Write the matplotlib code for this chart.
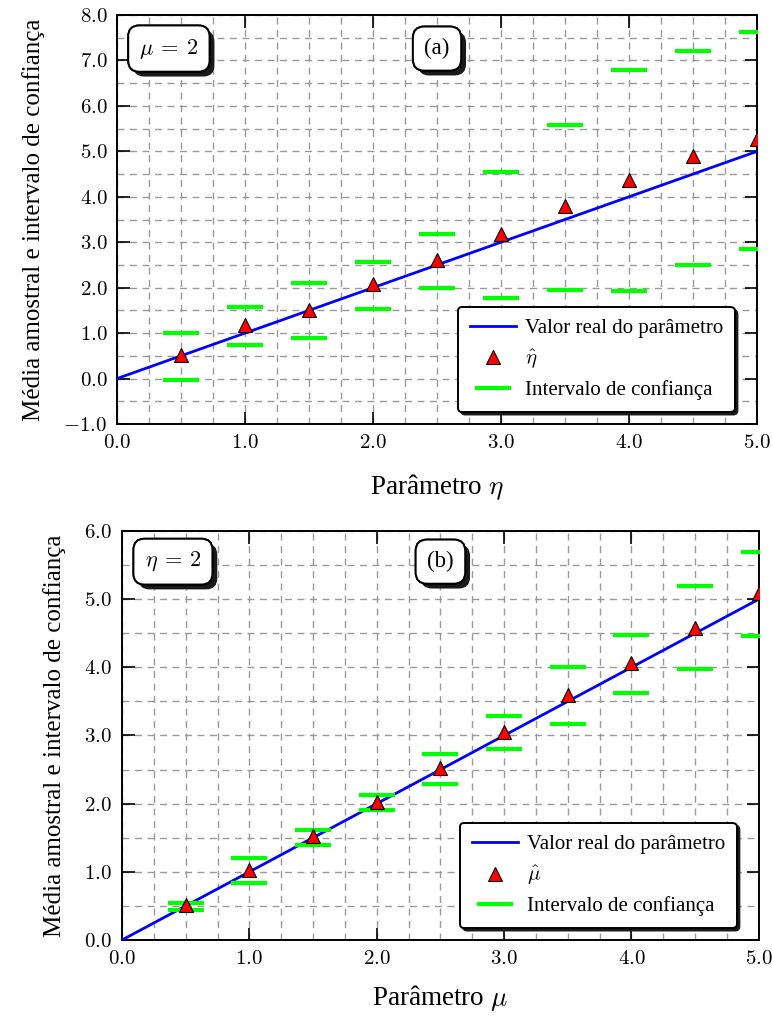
import numpy as np
import matplotlib
matplotlib.use("Agg")
import matplotlib.pyplot as plt
from matplotlib.ticker import MultipleLocator, FuncFormatter
import matplotlib.patheffects as pe

plt.rcParams["font.family"] = ["Liberation Serif", "DejaVu Serif"]
plt.rcParams["mathtext.fontset"] = "cm"

# ── Data ────────────────────────────────────────────────────────────────────
params = [0.5, 1.0, 1.5, 2.0, 2.5, 3.0, 3.5, 4.0, 4.5, 5.0]

# (a) mu = 2, varying eta
eta_hat = [0.52, 1.18, 1.50, 2.07, 2.60, 3.19, 3.80, 4.36, 4.89, 5.27]
eta_ci_low = [-0.03, 0.74, 0.89, 1.52, 1.99, 1.77, 1.94, 1.92, 2.49, 2.84]
eta_ci_high = [1.00, 1.58, 2.10, 2.57, 3.18, 4.55, 5.58, 6.78, 7.20, 7.62]

# (b) eta = 2, varying mu
mu_hat = [0.51, 1.02, 1.53, 2.02, 2.53, 3.05, 3.60, 4.06, 4.58, 5.09]
mu_ci_low = [0.44, 0.83, 1.40, 1.90, 2.29, 2.80, 3.17, 3.63, 3.97, 4.46]
mu_ci_high = [0.55, 1.20, 1.62, 2.12, 2.73, 3.28, 4.00, 4.47, 5.19, 5.69]

true_line = [0.0, 5.0]

fig = plt.figure(figsize=(7.72, 10.16), dpi=100)
ax_a = fig.add_axes([0.1516, 0.5827, 0.829, 0.4025])
ax_b = fig.add_axes([0.158, 0.0748, 0.825, 0.4026])


def style_axes(ax, ylim, xlabel, xpad):
    ax.set_xlim(0, 5)
    ax.set_ylim(*ylim)
    ax.xaxis.set_major_locator(MultipleLocator(1.0))
    ax.xaxis.set_minor_locator(MultipleLocator(0.25))
    ax.yaxis.set_major_locator(MultipleLocator(1.0))
    ax.yaxis.set_minor_locator(MultipleLocator(0.5))
    fmt = FuncFormatter(lambda v, _: f"${v:.1f}$")
    ax.xaxis.set_major_formatter(fmt)
    ax.yaxis.set_major_formatter(fmt)
    ax.grid(which="both", color="#999999", linestyle=(0, (5, 4)), linewidth=1.0)
    ax.tick_params(which="both", direction="in", top=True, right=True,
                   labelsize=15, pad=7)
    ax.tick_params(which="major", length=9, width=1.2)
    ax.tick_params(which="minor", length=0)
    for s in ax.spines.values():
        s.set_linewidth(1.4)
    ax.set_axisbelow(True)
    ax.set_xlabel(xlabel, fontsize=19.5, labelpad=xpad)
    ax.set_ylabel("Média amostral e intervalo de confiança", fontsize=18,
                  labelpad=13)


def draw_panel(ax, hat, lo, hi, hat_label):
    ax.plot(true_line, true_line, color="#0000ff", lw=2,
            label="Valor real do parâmetro", zorder=3)
    ax.plot(params, hat, linestyle="none", marker="^", markersize=10,
            markerfacecolor="#ff0000", markeredgecolor="black",
            markeredgewidth=0.8, label=hat_label, zorder=5)
    ax.plot(params, lo, linestyle="none", marker="_", markersize=26,
            markeredgewidth=3, color="#00ff00",
            label="Intervalo de confiança", zorder=4)
    ax.plot(params, hi, linestyle="none", marker="_", markersize=26,
            markeredgewidth=3, color="#00ff00", zorder=4)
    leg = ax.legend(loc="lower right", fontsize=15, frameon=True, fancybox=True,
                    shadow={"color": "#1a1a1a", "alpha": 1.0},
                    framealpha=1, edgecolor="black", borderpad=0.55,
                    handlelength=2.2, handletextpad=0.45, labelspacing=0.45,
                    borderaxespad=0, bbox_to_anchor=(0.965, 0.03))
    leg.get_frame().set_linewidth(1.4)


def tag(ax, x, y, text, size):
    t = ax.text(x, y, text, fontsize=size, ha="center", va="center",
                transform=ax.transAxes, zorder=10,
                bbox=dict(boxstyle="round,pad=0.5,rounding_size=0.5",
                          facecolor="white", edgecolor="black", linewidth=1.4))
    t.get_bbox_patch().set_path_effects([
        pe.withSimplePatchShadow(offset=(3.5, -3.5), shadow_rgbFace="#1a1a1a",
                                 alpha=1.0),
        pe.Normal()])


draw_panel(ax_a, eta_hat, eta_ci_low, eta_ci_high, r"$\hat{\eta}$")
style_axes(ax_a, (-1, 8), r"Parâmetro $\eta$", 14)
tag(ax_a, 0.081, 0.918, r"$\mu\:=\:2$", 16)
tag(ax_a, 0.5, 0.918, "(a)", 16.5)

draw_panel(ax_b, mu_hat, mu_ci_low, mu_ci_high, r"$\hat{\mu}$")
style_axes(ax_b, (0, 6), r"Parâmetro $\mu$", 10)
tag(ax_b, 0.08, 0.925, r"$\eta\:=\:2$", 16)
tag(ax_b, 0.5, 0.925, "(b)", 16.5)

fig.savefig("out.png", dpi=100)
